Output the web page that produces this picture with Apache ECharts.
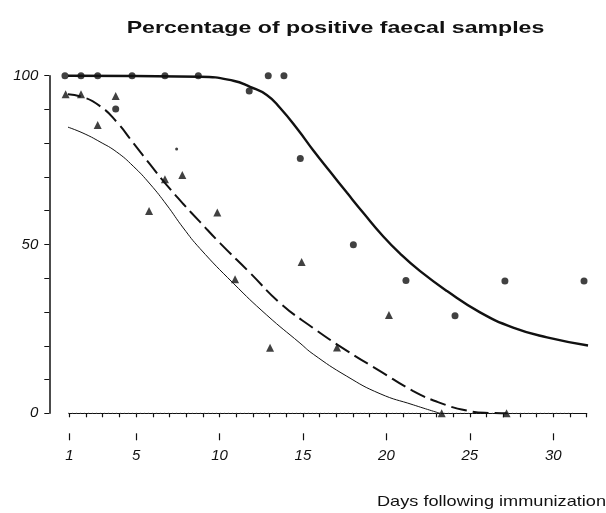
<!DOCTYPE html>
<html>
<head>
<meta charset="utf-8">
<script src="https://cdn.jsdelivr.net/npm/echarts@6/dist/echarts.min.js"></script>
<style>html,body{margin:0;padding:0;background:#fff;}#c{width:606px;height:513px;}</style>
</head>
<body>
<div id="c"></div>
<script>
// ---- data ----
var titleText = 'Percentage of positive faecal samples';
var xAxisName = 'Days following immunization';
var xTickLabels = [1, 5, 10, 15, 20, 25, 30];
var yTickLabels = [0, 50, 100];

// circles (days, % positive)
var circleDays = [0.74, 1.7, 2.7, 3.78, 4.76, 6.73, 8.73, 11.78, 12.92, 13.86, 14.84, 18.02, 21.17, 24.11, 27.1, 31.84];
var circleVals = [100, 100, 100, 90.1, 100, 100, 100, 95.5, 100, 100, 75.5, 49.9, 39.3, 28.9, 39.2, 39.2];

// triangles
var triDays = [0.78, 1.7, 2.7, 3.78, 5.78, 6.73, 7.77, 9.87, 10.93, 13.03, 14.92, 17.04, 20.15, 23.31, 27.2];
var triVals = [94.5, 94.5, 85.4, 94.0, 59.9, 69.3, 70.6, 59.5, 39.7, 19.4, 44.8, 19.5, 29.1, 0, 0];

// stray small dot
var dotDays = [7.43];
var dotVals = [78.3];

// thick solid fitted curve (circles)
var thickDays = [0.74, 8.83, 10.83, 11.83, 12.83, 13.62, 14.70, 15.60, 16.62, 17.64, 18.66, 19.72, 20.82, 22.02, 23.63, 25.61, 27.59, 29.62, 32.08];
var thickVals = [100, 99.7, 98.5, 96.7, 94.3, 90.5, 84.0, 78.0, 71.6, 65.3, 59.1, 52.9, 47.3, 42.1, 36.2, 29.9, 25.4, 22.5, 20.1];

// dashed fitted curve (triangles)
var dashDays = [0.74, 1.70, 2.84, 3.84, 4.83, 5.84, 6.84, 7.83, 8.83, 10.03, 11.83, 13.62, 15.60, 17.64, 19.62, 21.61, 23.21, 24.81, 26.21, 27.21];
var dashVals = [94.5, 93.8, 91.0, 86.3, 80.1, 73.7, 67.6, 62.0, 56.7, 50.4, 41.6, 32.7, 25.3, 18.5, 12.5, 6.6, 3.1, 0.8, 0.1, 0];

// thin solid curve
var thinDays = [0.84, 1.82, 2.84, 3.84, 4.83, 5.84, 6.84, 7.83, 8.83, 10.83, 12.83, 14.82, 15.62, 17.62, 19.62, 21.61, 23.21];
var thinVals = [84.9, 83.0, 80.4, 77.4, 73.2, 67.9, 61.7, 54.9, 48.8, 38.5, 29.1, 20.8, 17.5, 11.0, 5.8, 2.5, 0];

// dotted zero reference line
var zeroDays = [-0.04, 31.2];
var zeroVals = [0, 0];

function pairs(xs, ys) { return xs.map(function (x, i) { return [x, ys[i]]; }); }

var ink = '#111';
var chart = echarts.init(document.getElementById('c'), null, {renderer: 'canvas'});
chart.setOption({
  animation: false,
  backgroundColor: '#fff',
  graphic: [{
    type: 'text', x: 126.7, y: 20, scaleX: 1.36, scaleY: 1,
    style: {text: titleText, fontFamily: 'Liberation Sans', fontWeight: 'bold', fontSize: 17,
      fill: ink, textAlign: 'left', textVerticalAlign: 'top'}
  }, {
    type: 'text', x: 377, y: 494, scaleX: 1.21, scaleY: 1,
    style: {text: xAxisName, fontFamily: 'Liberation Sans', fontSize: 15, fill: ink,
      textAlign: 'left', textVerticalAlign: 'top'}
  }],
  grid: {left: 69.3, right: 19.3, top: 75.7, bottom: 99.7, containLabel: false},
  xAxis: [{
    type: 'value', min: 1, max: 32, interval: 1, offset: 20,
    axisLine: {show: true, lineStyle: {color: ink, width: 1.2}},
    axisTick: {show: true, inside: false, length: 4, lineStyle: {color: ink, width: 1.2}},
    axisLabel: {show: true, customValues: xTickLabels, margin: 15, fontStyle: 'italic',
      fontFamily: 'Liberation Sans', fontSize: 15, color: ink},
    splitLine: {show: false}
  }, {
    type: 'value', min: 1, max: 32, offset: 20, position: 'bottom',
    axisLine: {show: false},
    axisTick: {show: true, customValues: xTickLabels, length: 7, lineStyle: {color: ink, width: 1.2}},
    axisLabel: {show: false},
    splitLine: {show: false}
  }],
  yAxis: [{
    type: 'value', min: 0, max: 100, interval: 10, offset: 20,
    axisLine: {show: true, lineStyle: {color: ink, width: 1.5}},
    axisTick: {show: true, length: 5, lineStyle: {color: ink, width: 1}},
    axisLabel: {show: true, customValues: yTickLabels, margin: 11, fontStyle: 'italic',
      fontFamily: 'Liberation Sans', fontSize: 15, color: ink},
    splitLine: {show: false}
  }],
  series: [{
    type: 'line', data: pairs(zeroDays, zeroVals), symbol: 'none', clip: false,
    lineStyle: {color: '#444', width: 1, type: [1, 3]}
  }, {
    type: 'line', data: pairs(thickDays, thickVals), symbol: 'none', smooth: 0.5, clip: false,
    lineStyle: {color: ink, width: 2.4}
  }, {
    type: 'line', data: pairs(dashDays, dashVals), symbol: 'none', smooth: 0.5, clip: false,
    lineStyle: {color: ink, width: 2, type: [16, 6]}
  }, {
    type: 'line', data: pairs(thinDays, thinVals), symbol: 'none', smooth: 0.5, clip: false,
    lineStyle: {color: ink, width: 1}
  }, {
    type: 'scatter', data: pairs(circleDays, circleVals), symbol: 'circle', symbolSize: 7, clip: false,
    itemStyle: {color: ink}
  }, {
    type: 'scatter', data: pairs(triDays, triVals), symbol: 'triangle', symbolSize: 8, clip: false,
    itemStyle: {color: ink}
  }, {
    type: 'scatter', data: pairs(dotDays, dotVals), symbol: 'circle', symbolSize: 3, clip: false,
    itemStyle: {color: ink}
  }]
});
</script>
</body>
</html>
